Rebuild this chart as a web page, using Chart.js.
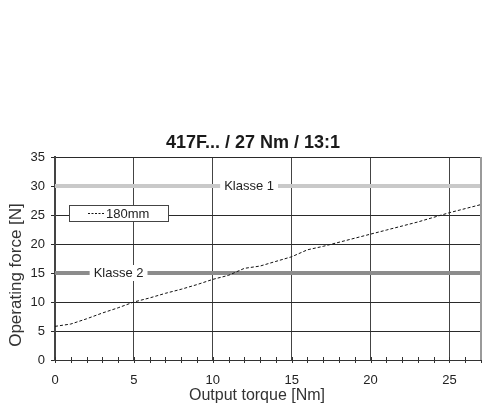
<!DOCTYPE html>
<html>
<head>
<meta charset="utf-8">
<script src="https://cdn.jsdelivr.net/npm/chart.js@4/dist/chart.umd.min.js"></script>
<style>
  html, body { margin: 0; padding: 0; background: #fff; }
  #wrap { width: 484px; height: 405px; position: relative; }
</style>
</head>
<body>
<div id="wrap"><canvas id="c" width="484" height="405"></canvas></div>
<script>
// ---- data ----
const torque = [0,1,2,3,4,5,6,7,8,9,10,11,12,13,14,15,16,17,18,19,20,21,22,23,24,25,26,27];
const force180 = [5.8,6.2,7.1,8.1,9.0,10.0,10.7,11.5,12.2,13.0,13.9,14.6,15.8,16.2,17.0,17.8,19.0,19.6,20.3,21.0,21.7,22.4,23.1,23.8,24.6,25.4,26.1,26.8];
const klasseNames = ['Klasse 1','Klasse 2'];
const klasseLevels = [30, 15];
const klasseLabelAt = [12.3, 4.03];
const xRange = [0, 27];
const yRange = [0, 35];
const seriesName = '180mm';
const titleText = '417F... / 27 Nm / 13:1';
const xTitle = 'Output torque [Nm]';
const yTitle = 'Operating force [N]';

const FONT = '"Liberation Sans", Arial, sans-serif';

const mainData = torque.map((t, i) => ({x: t, y: force180[i]}));
const klasseColors = ['#c9c9c9', '#8c8c8c'];

const datasets = [
  {
    label: seriesName, data: mainData, showLine: true, borderColor: '#111',
    borderWidth: 1, borderDash: [3, 2], pointRadius: 0, order: 0, tension: 0
  }
];
klasseLevels.forEach((lv, i) => {
  datasets.push({
    label: klasseNames[i],
    data: [{x: xRange[0], y: lv}, {x: xRange[1], y: lv}],
    showLine: true, borderColor: klasseColors[i], borderWidth: 4,
    pointRadius: 0, order: i + 1
  });
});

const decor = {
  id: 'decor',
  afterDatasetsDraw(chart) {
    const ctx = chart.ctx;
    const xs = chart.scales.x, ys = chart.scales.y;
    ctx.save();
    // Klasse labels
    ctx.font = '13px ' + FONT;
    ctx.textBaseline = 'middle';
    ctx.textAlign = 'center';
    klasseNames.forEach((n, i) => {
      const px = xs.getPixelForValue(klasseLabelAt[i]);
      const py = ys.getPixelForValue(klasseLevels[i]);
      const w = ctx.measureText(n).width;
      ctx.fillStyle = '#fff';
      ctx.fillRect(px - w / 2 - 4, py - 8, w + 8, 16);
      ctx.fillStyle = '#222';
      ctx.fillText(n, px, py + 0.5);
    });
    // legend box
    const bx = 69, by = 205, bw = 99, bh = 16;
    ctx.fillStyle = '#fff';
    ctx.fillRect(bx, by, bw, bh);
    ctx.strokeStyle = '#444';
    ctx.lineWidth = 1;
    ctx.strokeRect(bx + 0.5, by + 0.5, bw, bh);
    ctx.beginPath();
    ctx.setLineDash([2, 1.5]);
    ctx.strokeStyle = '#111';
    ctx.moveTo(88, by + bh / 2 + 0.5);
    ctx.lineTo(105, by + bh / 2 + 0.5);
    ctx.stroke();
    ctx.setLineDash([]);
    ctx.fillStyle = '#222';
    ctx.textAlign = 'left';
    ctx.fillText(seriesName, 106, by + bh / 2 + 1);
    ctx.restore();
  },
  afterDraw(chart) {
    const ctx = chart.ctx;
    const xs = chart.scales.x, ys = chart.scales.y;
    const a = chart.chartArea;
    ctx.save();
    // minor ticks on x axis
    ctx.strokeStyle = '#333';
    ctx.lineWidth = 1;
    ctx.beginPath();
    for (let v = xRange[0]; v <= xRange[1]; v++) {
      const px = Math.round(xs.getPixelForValue(v)) + 0.5;
      ctx.moveTo(px, a.bottom - 3);
      ctx.lineTo(px, a.bottom + 3);
    }
    ctx.stroke();
    // right border
    ctx.strokeStyle = '#9a9a9a';
    ctx.lineWidth = 2;
    ctx.beginPath();
    ctx.moveTo(a.right, a.top);
    ctx.lineTo(a.right, a.bottom);
    ctx.stroke();
    // titles
    ctx.fillStyle = '#1a1a1a';
    ctx.textAlign = 'center';
    ctx.textBaseline = 'middle';
    ctx.font = 'bold 18px ' + FONT;
    ctx.fillText(titleText, 253, 143);
    ctx.fillStyle = '#333';
    ctx.font = '16px ' + FONT;
    ctx.fillText(xTitle, 257, 396);
    ctx.translate(16, 275);
    ctx.rotate(-Math.PI / 2);
    ctx.font = '17px ' + FONT;
    ctx.fillText(yTitle, 0, 0);
    ctx.restore();
  }
};

new Chart(document.getElementById('c'), {
  type: 'scatter',
  data: { datasets },
  options: {
    responsive: false,
    animation: false,
    layout: { padding: { top: 157, right: 3, left: 0, bottom: 0 } },
    plugins: { legend: { display: false }, tooltip: { enabled: false }, title: { display: false } },
    scales: {
      x: {
        type: 'linear', min: xRange[0], max: xRange[1],
        ticks: { stepSize: 5, includeBounds: false, padding: 13, color: '#222',
                 font: { family: FONT, size: 13 } },
        grid: { color: '#444', lineWidth: 1, drawTicks: false },
        border: { color: '#333', width: 1 },
        afterFit(s) { s.height = 45; }
      },
      y: {
        type: 'linear', min: yRange[0], max: yRange[1],
        ticks: { stepSize: 5, padding: 6, color: '#222',
                 font: { family: FONT, size: 13 } },
        grid: { color: '#2a2a2a', lineWidth: 1, tickLength: 4 },
        border: { color: '#444', width: 2 },
        afterFit(s) { s.width = 55; }
      }
    }
  },
  plugins: [decor]
});
</script>
</body>
</html>
